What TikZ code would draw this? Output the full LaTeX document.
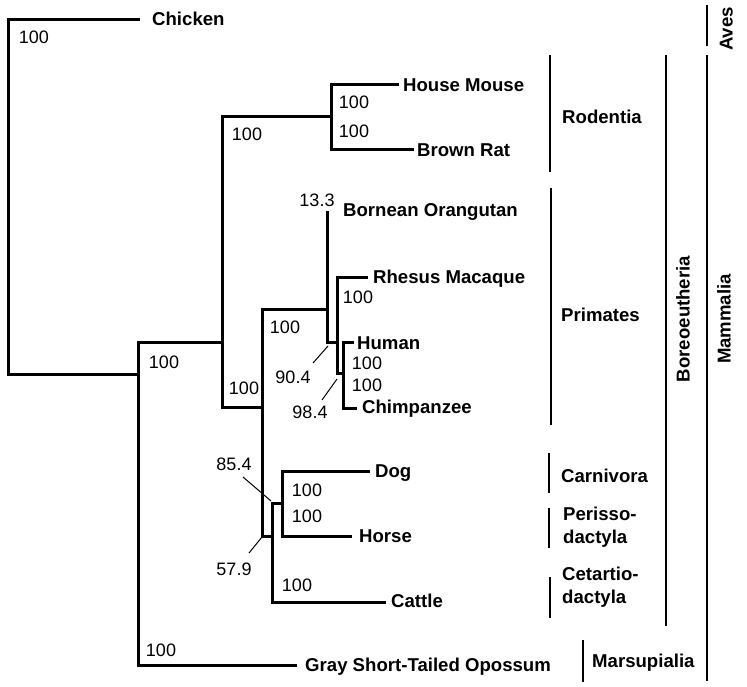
\documentclass[tikz,border=0pt]{standalone}
\usepackage{fontspec}
\setmainfont{Liberation Sans}
\begin{document}
\begin{tikzpicture}[x=1pt,y=-1pt,
  tree/.style={line width=3pt,line cap=rect,line join=miter},
  bar/.style={line width=1.8pt},
  leader/.style={line width=1pt},
  taxon/.style={anchor=west,inner sep=0pt,text height=13pt,text depth=0pt,font=\fontsize{18.6}{21}\selectfont\bfseries},
  grp/.style={taxon},
  num/.style={anchor=center,inner sep=0pt,text height=13pt,text depth=0pt,font=\fontsize{18}{21}\selectfont},
  vgrp/.style={anchor=center,inner sep=0pt,text height=13pt,text depth=0pt,rotate=90,font=\fontsize{18.6}{21}\selectfont\bfseries}]
\fill[white] (0,0) rectangle (747,686);
\useasboundingbox (0,0) rectangle (747,686);

% tips
\coordinate (chickT) at (138,19);
\coordinate (mouseT) at (397,84);
\coordinate (ratT) at (412,149);
\coordinate (orangT) at (327,212);
\coordinate (rhesusT) at (366,277);
\coordinate (humanT) at (352,342);
\coordinate (chimpT) at (355,408);
\coordinate (dogT) at (368,471);
\coordinate (horseT) at (350,536);
\coordinate (cattleT) at (384,602);
\coordinate (opoT) at (295,665);
% internal nodes
\coordinate (rootB) at (8,374);
\coordinate (mamJ) at (138,374);
\coordinate (mamTop) at (138,342);
\coordinate (mamBot) at (138,665);
\coordinate (boreoJ) at (222,342);
\coordinate (boreoTop) at (222,116);
\coordinate (boreoBot) at (222,407);
\coordinate (rodJ) at (331,116);
\coordinate (rodTop) at (331,84);
\coordinate (rodBot) at (331,149);
\coordinate (euJ) at (262,407);
\coordinate (euTop) at (262,309);
\coordinate (euBot) at (262,536);
\coordinate (priJ) at (327,309);
\coordinate (priBot) at (327,342);
\coordinate (hrJ) at (337,342);
\coordinate (hrTop) at (337,277);
\coordinate (hrBot) at (337,373);
\coordinate (hcJ) at (343,373);
\coordinate (hcTop) at (343,342);
\coordinate (hcBot) at (343,408);
\coordinate (laJ) at (272,536);
\coordinate (laTop) at (272,503);
\coordinate (laBot) at (272,602);
\coordinate (dhJ) at (282,503);
\coordinate (dhTop) at (282,471);
\coordinate (dhBot) at (282,536);

% branches
\draw[tree] (chickT) -| (rootB) -- (mamJ);
\draw[tree] (boreoJ) -- (mamTop) -- (mamBot) -- (opoT);
\draw[tree] (rodJ) -- (boreoTop) -- (boreoBot) -- (euJ);
\draw[tree] (mouseT) -- (rodTop) -- (rodBot) -- (ratT);
\draw[tree] (priJ) -- (euTop) -- (euBot) -- (laJ);
\draw[tree] (orangT) -- (priBot) -- (hrJ);
\draw[tree] (rhesusT) -- (hrTop) -- (hrBot) -- (hcJ);
\draw[tree] (humanT) -- (hcTop) -- (hcBot) -- (chimpT);
\draw[tree] (dhJ) -- (laTop) -- (laBot) -- (cattleT);
\draw[tree] (dogT) -- (dhTop) -- (dhBot) -- (horseT);

% taxa
\node[taxon] (chicken) at (152,19) {Chicken};
\node[taxon] (mouse) at (403,85) {House Mouse};
\node[taxon] (rat) at (417,150) {Brown Rat};
\node[taxon] (orang) at (343,210) {Bornean Orangutan};
\node[taxon] (rhesus) at (373,277) {Rhesus Macaque};
\node[taxon] (human) at (357,343) {Human};
\node[taxon] (chimp) at (362,407) {Chimpanzee};
\node[taxon] (dog) at (375,471) {Dog};
\node[taxon] (horse) at (359,536) {Horse};
\node[taxon] (cattle) at (391,601) {Cattle};
\node[taxon] (opossum) at (305,665) {Gray Short-Tailed Opossum};

% support values
\node[num] (nChick) at (34,37) {100};
\node[num] (nMouse) at (354,102) {100};
\node[num] (nRat) at (354,131) {100};
\node[num] (nBoreoT) at (247,134) {100};
\node[num] (nMam) at (164,362) {100};
\node[num] (nOpo) at (161,650) {100};
\node[num] (nBoreoB) at (244,388) {100};
\node[num] (nOrang) at (317,200) {13.3};
\node[num] (nRhesus) at (358,297) {100};
\node[num] (nEu) at (285,327) {100};
\node[num] (nHuman) at (367,363) {100};
\node[num] (nChimp) at (367,385) {100};
\node[num] (n904) at (293,377) {90.4};
\node[num] (n984) at (310,412) {98.4};
\node[num] (n854) at (234,464) {85.4};
\node[num] (n579) at (234,569) {57.9};
\node[num] (nDog) at (307,490) {100};
\node[num] (nHorse) at (307,516) {100};
\node[num] (nCattle) at (297,585) {100};

% leader lines
\coordinate (l904a) at (313,363); \coordinate (l904b) at (328,346);
\coordinate (l984a) at (322,400); \coordinate (l984b) at (337,379);
\coordinate (l854a) at (243,477); \coordinate (l854b) at (271,501);
\coordinate (l579a) at (249,553); \coordinate (l579b) at (262,537);
\draw[leader] (l904a) -- (l904b);
\draw[leader] (l984a) -- (l984b);
\draw[leader] (l854a) -- (l854b);
\draw[leader] (l579a) -- (l579b);

% group bars
\coordinate (bRodA) at (550,55); \coordinate (bRodB) at (550,172);
\coordinate (bPriA) at (551,188); \coordinate (bPriB) at (551,425);
\coordinate (bCarA) at (549,453); \coordinate (bCarB) at (549,493);
\coordinate (bPerA) at (549,508); \coordinate (bPerB) at (549,548);
\coordinate (bCetA) at (550,577); \coordinate (bCetB) at (550,618);
\coordinate (bMarA) at (583,640); \coordinate (bMarB) at (583,682);
\coordinate (bBorA) at (666,55); \coordinate (bBorB) at (666,626);
\coordinate (bMamA) at (707,55); \coordinate (bMamB) at (707,681);
\coordinate (bAveA) at (707,5); \coordinate (bAveB) at (707,46);
\draw[bar] (bRodA) -- (bRodB);
\draw[bar] (bPriA) -- (bPriB);
\draw[bar] (bCarA) -- (bCarB);
\draw[bar] (bPerA) -- (bPerB);
\draw[bar] (bCetA) -- (bCetB);
\draw[bar] (bMarA) -- (bMarB);
\draw[bar] (bBorA) -- (bBorB);
\draw[bar] (bMamA) -- (bMamB);
\draw[bar] (bAveA) -- (bAveB);

% group labels
\node[grp] (gRod) at (562,117) {Rodentia};
\node[grp] (gPri) at (561,315) {Primates};
\node[grp] (gCar) at (561,476) {Carnivora};
\node[grp] (gPerA) at (563,514) {Perisso-};
\node[grp] (gPerB) at (563,537) {dactyla};
\node[grp] (gCetA) at (562,574) {Cetartio-};
\node[grp] (gCetB) at (562,597) {dactyla};
\node[grp] (gMar) at (592,661) {Marsupialia};
\node[vgrp] (gBor) at (683,319) {Boreoeutheria};
\node[vgrp] (gMam) at (724,319) {Mammalia};
\node[vgrp] (gAve) at (726,29) {Aves};
\end{tikzpicture}
\end{document}
